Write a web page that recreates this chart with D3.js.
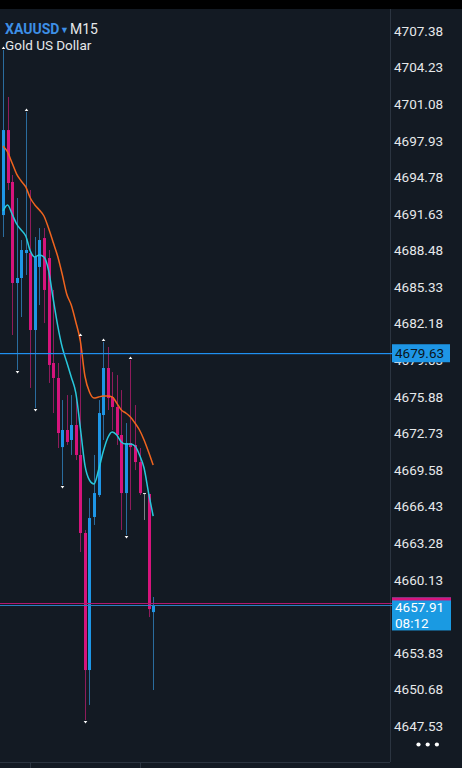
<!DOCTYPE html>
<html><head><meta charset="utf-8">
<script src="https://cdn.jsdelivr.net/npm/d3@7"></script>
<style>html,body{margin:0;padding:0;background:#131a23;overflow:hidden}svg{display:block}</style>
</head><body>
<script>
// ---- data ----
const symbol = "XAUUSD", timeframe = "M15", description = "Gold US Dollar";
const candleIndex = d3.range(34);
const open  = [4691.53,4698.85,4694.38,4685.68,4686.11,4688.26,4688.26,4681.63,4687.06,4689.55,4687.83,4678.79,4677.50,4671.55,4673.02,4672.16,4673.45,4670.87,4664.15,4652.35,4665.53,4667.42,4674.31,4678.36,4675.86,4675.00,4672.59,4667.59,4671.90,4671.73,4670.26,4667.59,4667.51,4657.34];
const high  = [4705.74,4701.70,4694.98,4693.00,4689.38,4700.40,4693.69,4689.64,4690.41,4690.41,4688.52,4685.08,4678.79,4675.60,4676.03,4676.03,4675.77,4681.03,4664.41,4667.16,4670.87,4675.60,4680.60,4680.17,4678.01,4677.75,4676.46,4673.62,4679.05,4675.17,4671.47,4667.59,4667.51,4658.64];
const low   = [4689.64,4693.69,4681.20,4678.19,4682.75,4686.37,4676.64,4674.91,4683.78,4682.23,4677.07,4674.48,4671.47,4668.28,4671.73,4670.87,4670.43,4662.51,4648.04,4649.34,4664.84,4667.25,4672.16,4674.74,4673.02,4671.73,4664.41,4663.98,4666.13,4669.57,4667.42,4665.27,4656.91,4650.63];
const close = [4698.85,4694.29,4685.68,4686.11,4688.52,4688.52,4681.63,4687.92,4689.38,4685.08,4678.62,4677.50,4672.76,4673.02,4671.99,4673.45,4670.87,4664.15,4652.35,4665.44,4667.59,4674.48,4678.36,4675.77,4675.00,4672.59,4667.59,4671.90,4671.55,4670.26,4667.59,4667.59,4657.60,4657.91];
const maSlow = [4697.48,4696.96,4696.01,4695.06,4694.46,4693.95,4693.00,4692.40,4691.96,4691.45,4690.41,4689.21,4688.00,4686.45,4684.73,4683.78,4682.32,4680.68,4677.67,4676.29,4675.77,4675.86,4675.95,4675.95,4675.86,4675.34,4674.74,4674.48,4674.14,4673.62,4673.02,4672.16,4671.12,4670.00];
const maFast = [4691.88,4692.40,4691.62,4690.76,4690.24,4689.73,4688.43,4687.92,4688.09,4687.92,4686.80,4684.39,4682.06,4680.17,4678.87,4677.58,4676.21,4673.19,4670.00,4668.71,4668.37,4669.57,4671.12,4672.33,4672.85,4672.59,4671.99,4671.81,4671.81,4671.64,4670.87,4669.75,4667.59,4665.61];
const fractalUp = [0,5,17,22,28];
const fractalDown = [3,7,13,18,27];
const tickLabels = ["4707.38","4704.23","4701.08","4697.93","4694.78","4691.63","4688.48","4685.33","4682.18","4679.03","4675.88","4672.73","4669.58","4666.43","4663.28","4660.13","4656.98","4653.83","4650.68","4647.53"];
const levelPrice = 4679.63;
const bidPrice = 4657.91, askPrice = 4658.09, countdown = "08:12";
const timeLabels = ["20 Jun 05:15","20 Jun 11:15"];
const timeLabelIndex = [6, 30];

// ---- layout ----
const W = 462, H = 768, plotR = 390, plotT = 9, plotB = 762;
const C = {bg:"#131a23", up:"#1e96e6", down:"#d6147c", upWick:"#2a6c9e", downWick:"#8e1c5c",
           slow:"#f0641e", fast:"#28c8dc", axis:"#2b3440", text:"#e6e8ea"};

const svg = d3.select("body").append("svg").attr("width", W).attr("height", H);
svg.append("rect").attr("width", W).attr("height", H).attr("fill", C.bg);
svg.append("rect").attr("width", W).attr("height", plotT).attr("fill", "#000");

const x = d3.scaleLinear().domain([-0.66, 85.05]).range([0, plotR]);
const y = d3.scaleLinear().domain([4647.53, 4707.38]).range([726, 31]);

svg.append("defs").append("clipPath").attr("id","clip")
  .append("rect").attr("x",0).attr("y",plotT).attr("width",plotR).attr("height",plotB-plotT);
const g = svg.append("g").attr("clip-path","url(#clip)");

// borders
svg.append("line").attr("x1",plotR+0.5).attr("x2",plotR+0.5).attr("y1",plotT).attr("y2",plotB).attr("stroke",C.axis);
svg.append("line").attr("x1",0).attr("x2",plotR).attr("y1",plotB+0.5).attr("y2",plotB+0.5).attr("stroke",C.axis);

// candles
const candles = candleIndex.map(i => ({i, o:open[i], h:high[i], l:low[i], c:close[i]}));
const col = d => d.c > d.o ? "up" : (d.c < d.o ? "down" : "flat");
g.selectAll(".wick").data(candles).join("line")
  .attr("x1", d => Math.round(x(d.i))+0.5).attr("x2", d => Math.round(x(d.i))+0.5)
  .attr("y1", d => y(d.h)).attr("y2", d => y(d.l))
  .attr("stroke", d => col(d)==="up" ? C.upWick : col(d)==="down" ? C.downWick : "#7a7f86").attr("stroke-width",1);
g.selectAll(".body").data(candles).join("rect")
  .attr("x", d => Math.round(x(d.i))-1).attr("width", 3)
  .attr("y", d => y(Math.max(d.o,d.c))).attr("height", d => Math.max(1, Math.abs(y(d.o)-y(d.c))))
  .attr("fill", d => col(d)==="up" ? C.up : col(d)==="down" ? C.down : "#e8e8e8");

// moving averages
const line = arr => d3.line().x((v,i)=>x(i)).y(v=>y(v)).curve(d3.curveMonotoneX)(arr);
g.append("path").attr("d", line(maSlow)).attr("fill","none").attr("stroke",C.slow).attr("stroke-width",1.5);
g.append("path").attr("d", line(maFast)).attr("fill","none").attr("stroke",C.fast).attr("stroke-width",1.5);

// fractal markers
g.selectAll(".fu").data(fractalUp).join("path")
  .attr("d", i => { const cx=Math.round(x(i))+0.5, cy=y(high[i])-2; return `M${cx-1.8},${cy+1} L${cx+1.8},${cy+1} L${cx},${cy-1.5}Z`; })
  .attr("fill","#ffffff");
g.selectAll(".fd").data(fractalDown).join("path")
  .attr("d", i => { const cx=Math.round(x(i))+0.5, cy=y(low[i])+2; return `M${cx-1.8},${cy-1} L${cx+1.8},${cy-1} L${cx},${cy+1.5}Z`; })
  .attr("fill","#ffffff");

// horizontal level lines
svg.append("rect").attr("x",0).attr("width",plotR+2).attr("y",Math.round(y(levelPrice))).attr("height",1.2).attr("fill","#1f90f0");
svg.append("rect").attr("x",0).attr("width",plotR+2).attr("y",Math.round(y(askPrice))).attr("height",1).attr("fill","#b0186e");
svg.append("rect").attr("x",0).attr("width",plotR+2).attr("y",Math.round(y(bidPrice))).attr("height",1).attr("fill","#2a7fc0");

// y axis labels
const font = "Roboto, 'Noto Sans', sans-serif";
svg.selectAll(".tick").data(tickLabels).join("text")
  .attr("x", 394).attr("y", d => y(+d)).attr("dy","0.36em")
  .attr("font-family", font).attr("font-size", 13.5).attr("fill", C.text).text(d => d);

// level label box
const ly = y(levelPrice);
svg.append("rect").attr("x",392).attr("y",ly-9).attr("width",58).attr("height",18).attr("fill","#1e96e6");
svg.append("text").attr("x",395).attr("y",ly).attr("dy","0.36em").attr("font-family",font).attr("font-size",13.5).attr("fill","#0b1520").text(levelPrice.toFixed(2));

// bid label box
const by = y(bidPrice);
svg.append("rect").attr("x",392).attr("y",by-8).attr("width",59).attr("height",33).attr("fill","#1a9ae2");
svg.append("rect").attr("x",392).attr("y",by-8).attr("width",59).attr("height",3).attr("fill",C.down);
svg.append("text").attr("x",395).attr("y",by+2).attr("dy","0.36em").attr("font-family",font).attr("font-size",13.5).attr("fill","#ffffff").text(bidPrice.toFixed(2));
svg.append("text").attr("x",395).attr("y",by+18).attr("dy","0.36em").attr("font-family",font).attr("font-size",13.5).attr("fill","#ffffff").text(countdown);

// header
svg.append("text").attr("x",5).attr("y",34).attr("font-family",font).attr("font-size",14).attr("font-weight","bold").attr("fill","#3d8fe6").text(symbol);
svg.append("text").attr("x",60).attr("y",33).attr("font-family",font).attr("font-size",9).attr("fill","#3d8fe6").text("▼");
svg.append("text").attr("x",70).attr("y",34).attr("font-family",font).attr("font-size",14).attr("fill",C.text).text(timeframe);
svg.append("text").attr("x",5).attr("y",50).attr("font-family",font).attr("font-size",13.5).attr("fill",C.text).text(description);

// more dots
svg.selectAll(".dot").data([0,1,2]).join("circle")
  .attr("cx", d => 418.5 + d*9.2).attr("cy", 744.5).attr("r", 2.1).attr("fill", "#ffffff");

// time axis (mostly cut off at the bottom, as in the reference)
svg.selectAll(".tt").data(timeLabelIndex).join("line")
  .attr("x1", i => Math.round(x(i))+0.5).attr("x2", i => Math.round(x(i))+0.5)
  .attr("y1", plotB+1).attr("y2", H).attr("stroke", C.axis);
svg.selectAll(".tl").data(timeLabelIndex).join("text")
  .attr("x", i => x(i)+2).attr("y", 778)
  .attr("font-family",font).attr("font-size",13.5).attr("fill",C.text)
  .text((i,k) => timeLabels[k]);
</script>
</body></html>
